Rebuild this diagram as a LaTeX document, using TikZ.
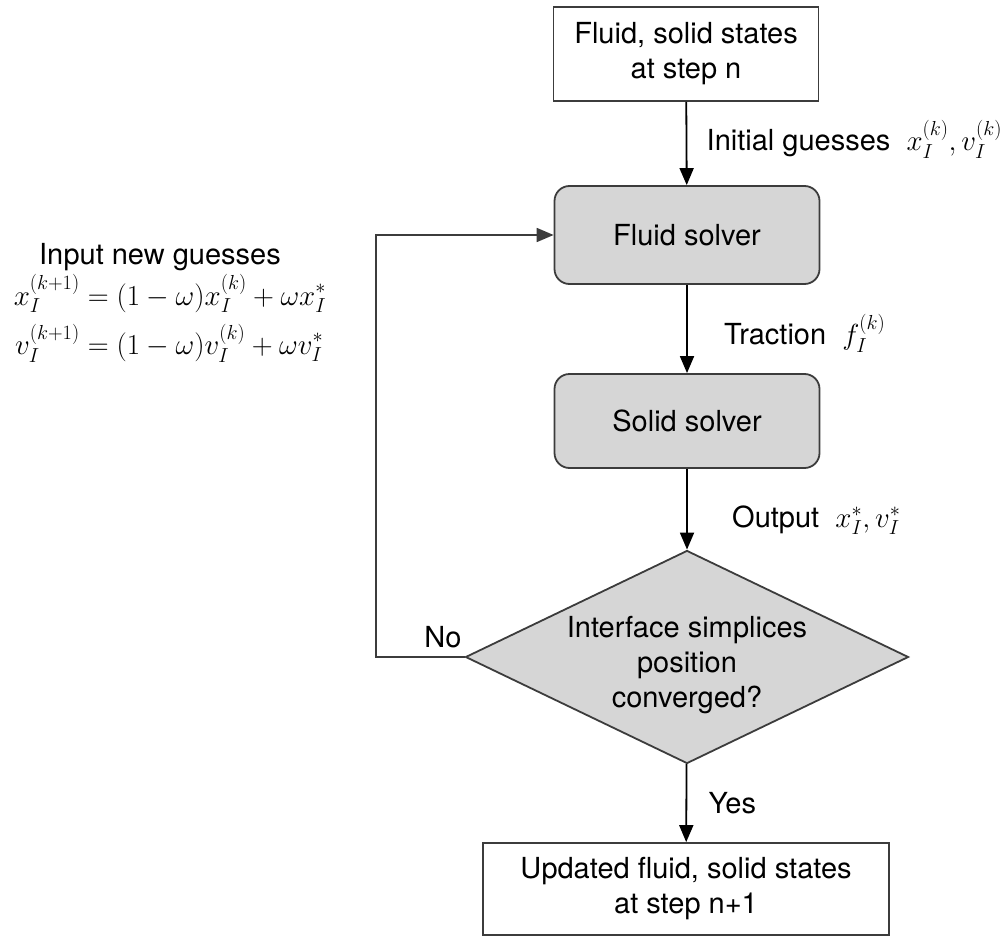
\RequirePackage{fix-cm}
\documentclass[tikz,border=0pt]{standalone}
\usepackage{amsmath}
\usepackage[no-math]{fontspec}
\setmainfont{TeX Gyre Heros}
\usetikzlibrary{shapes.geometric,arrows.meta}

\definecolor{boxgray}{RGB}{214,214,214}
\definecolor{edgegray}{RGB}{60,60,60}

\begin{document}
\begin{tikzpicture}[x=1pt, y=-1pt, font=\fontsize{29}{35}\selectfont,
    state/.style={draw=edgegray, line width=1.8pt, align=center, minimum width=265, minimum height=94, inner sep=0},
    solver/.style={draw=edgegray, fill=boxgray, rounded corners=15pt, line width=1.8pt, minimum width=265, minimum height=98},
    check/.style={diamond, draw=edgegray, fill=boxgray, line width=1.8pt, minimum width=443, minimum height=213, inner sep=0},
    flow/.style={-{Triangle[width=14pt,length=17pt]}, line width=1.8pt}]
    \useasboundingbox (0,0) rectangle (1003,936);
    \node[state] (S0) at (686,54) {Fluid, solid states\\at step n};
    \node[solver] (FS) at (687,235) {Fluid solver};
    \node[solver, minimum height=94] (SS) at (687,421) {Solid solver};
    \node[check] (C) at (687,657) {};
    \node[align=center] (Ctext) at (687,665) {Interface simplices\\position\\converged?};
    \node[state, minimum width=406, minimum height=92] (S1) at (686,889) {Updated fluid, solid states\\at step n+1};
    \node (guess) at (160,257) {Input new guesses};
    \node (update) at (170,320) {$\begin{aligned}
        x_I^{(k+1)} &= (1-\omega)x_I^{(k)} + \omega x_I^{*}\\[5pt]
        v_I^{(k+1)} &= (1-\omega)v_I^{(k)} + \omega v_I^{*}
        \end{aligned}$};
    \draw[flow](S0) to node[right=16pt, yshift=4pt] {Initial guesses~~$x_I^{(k)}, v_I^{(k)}$}(FS);
    \draw[flow](FS) to node[right=33pt, yshift=-4pt] {Traction~~$f_I^{(k)}$}(SS);
    \draw[flow](SS) to node[right=41pt, yshift=-11pt] {Output~~$x_I^{*}, v_I^{*}$}(C);
    \draw[flow](C) to node[right=18pt] {Yes}(S1);
    \draw[flow, draw=edgegray](C.west) -- ++(-89,0) |- (FS.west);
    \node (no) at (443,637) {No};
\end{tikzpicture}
\end{document}
